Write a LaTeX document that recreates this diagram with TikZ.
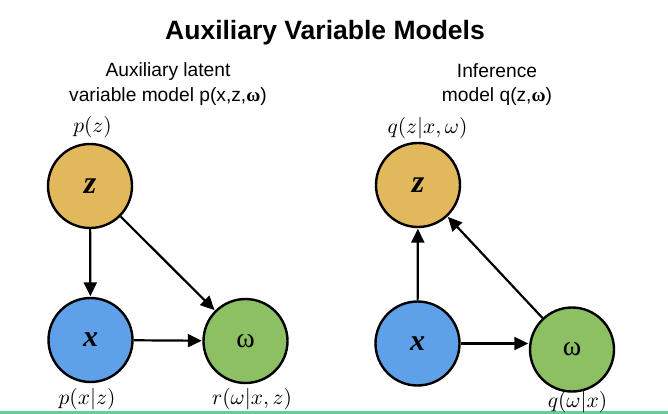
\documentclass[tikz,border=0pt]{standalone}
\usepackage{graphicx}
\usepackage{fontspec}
\setmainfont{Liberation Sans}
\newfontfamily\serifnode{Liberation Serif}
\usetikzlibrary{arrows.meta}
\definecolor{zgold}{RGB}{225,184,92}
\definecolor{xblue}{RGB}{94,161,232}
\definecolor{wgreen}{RGB}{140,192,99}
\definecolor{bargreen}{RGB}{98,208,148}
\newcommand{\bigmath}[1]{\scalebox{2.15}{$#1$}}
\tikzset{
  varnode/.style={circle, draw=black, line width=2.4pt, minimum size=84pt, inner sep=0pt},
  edge/.style={line width=2.2pt, -{Triangle[length=14pt,width=13pt]}, shorten >=0.5pt},
  mlabel/.style={inner sep=0pt},
  subtitle/.style={font=\fontsize{19.2}{26}\selectfont, align=center, inner sep=0pt},
}
\begin{document}
\begin{tikzpicture}[x=1pt,y=-1pt]
\useasboundingbox (0,0) rectangle (668,414);
\fill[bargreen] (0,410.5) rectangle (668,414);
\node[font=\bfseries\fontsize{26.5}{30}\selectfont, inner sep=0pt] (title) at (325,33) {Auxiliary Variable Models};
\node[subtitle] (subL1) at (168,72) {Auxiliary latent};
\node[subtitle] (subL2) at (168,97) {variable model p(x,z,{\serifnode\bfseries ω})};
\node[subtitle] (subR1) at (497,71) {Inference};
\node[subtitle] (subR2) at (497,97) {model q(z,{\serifnode\bfseries ω})};
% left graph
\node[varnode, fill=zgold] (zL) at (90,186) {\serifnode\bfseries\itshape\fontsize{32}{32}\selectfont z};
\node[varnode, fill=xblue] (xL) at (90.5,340) {\serifnode\bfseries\itshape\fontsize{30}{30}\selectfont x};
\node[varnode, fill=wgreen] (wL) at (245.5,341) {\serifnode\fontsize{28}{28}\selectfont ω};
\node[mlabel] (pz) at (92.5,127) {\bigmath{p(z)}};
\node[mlabel] (pxz) at (87,399) {\bigmath{p(x|z)}};
\node[mlabel] (rw) at (252,399) {\bigmath{r(\omega|x,z)}};
\draw[edge] (zL) -- (xL);
\draw[edge] (zL) -- (wL);
\draw[edge] (xL) -- (wL);
% right graph
\node[varnode, fill=zgold] (zR) at (418,185) {\serifnode\bfseries\itshape\fontsize{32}{32}\selectfont z};
\node[varnode, fill=xblue] (xR) at (417.5,343.5) {\serifnode\bfseries\itshape\fontsize{30}{30}\selectfont x};
\node[varnode, fill=wgreen] (wR) at (572,349.5) {\serifnode\fontsize{28}{28}\selectfont ω};
\node[mlabel] (qz) at (427.5,128) {\bigmath{q(z|x,\omega)}};
\node[mlabel] (qw) at (577.5,402) {\bigmath{q(\omega|x)}};
\draw[edge] (xR) -- (zR);
\draw[edge] (wR) -- (zR);
\draw[edge] (xR.east) -- (xR -| wR.west);
\end{tikzpicture}
\end{document}
